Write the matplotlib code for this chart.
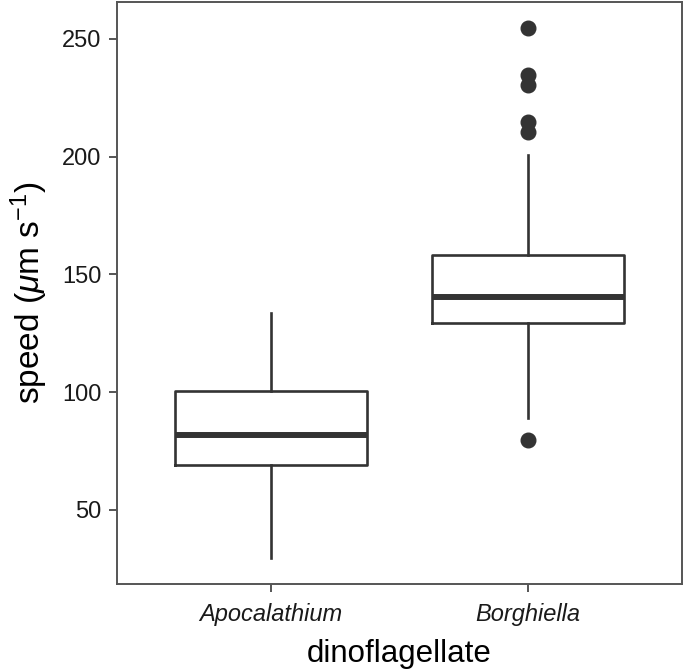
import matplotlib
matplotlib.use("Agg")
import matplotlib.pyplot as plt

plt.rcParams['font.family'] = ['Liberation Sans', 'DejaVu Sans']
plt.rcParams['mathtext.fontset'] = 'custom'
plt.rcParams['mathtext.rm'] = 'Liberation Sans'
plt.rcParams['mathtext.it'] = 'Liberation Sans:italic'

# box statistics (speed, um/s)
species = ['Apocalathium', 'Borghiella']
lower_whisker = [29.5, 89.1]
q1 = [69.1, 129.4]
median = [81.8, 140.6]
q3 = [100.6, 158.3]
upper_whisker = [133.8, 200.7]
outliers = [[], [254.5, 234.7, 230.5, 214.9, 210.6, 79.7]]

DARK = '#333333'

stats = []
for i in range(len(species)):
    stats.append({'label': species[i], 'whislo': lower_whisker[i], 'q1': q1[i],
                  'med': median[i], 'q3': q3[i], 'whishi': upper_whisker[i],
                  'fliers': outliers[i]})

fig = plt.figure(figsize=(6.85, 6.72), dpi=100)
ax = fig.add_axes([117 / 685, 88 / 672, 565 / 685, 582 / 672])

ax.bxp(stats, positions=[1, 2], widths=0.75, showcaps=False,
       boxprops=dict(color=DARK, linewidth=1.9),
       whiskerprops=dict(color=DARK, linewidth=1.9),
       medianprops=dict(color=DARK, linewidth=4.3, solid_capstyle='butt'),
       flierprops=dict(marker='o', markerfacecolor=DARK, markeredgecolor=DARK,
                       markersize=10.5))

ax.set_xlim(0.4, 2.6)
ax.set_ylim(18.5, 265.7)
ax.set_yticks([50, 100, 150, 200, 250])
ax.set_xticks([1, 2])
ax.set_xticklabels(species, fontstyle='italic')

for s in ax.spines.values():
    s.set_color('#555555')
    s.set_linewidth(1.4)
ax.tick_params(axis='both', length=6, width=1.4, color='#555555',
               labelsize=17, labelcolor='#1a1a1a', pad=5)
ax.tick_params(axis='x', pad=8)

ax.set_xlabel('dinoflagellate', fontsize=22.5, labelpad=9)
ax.set_ylabel(r'speed ($\mu$m s$^{-1}$)', fontsize=24, labelpad=9)

fig.savefig('out.png', dpi=100)
